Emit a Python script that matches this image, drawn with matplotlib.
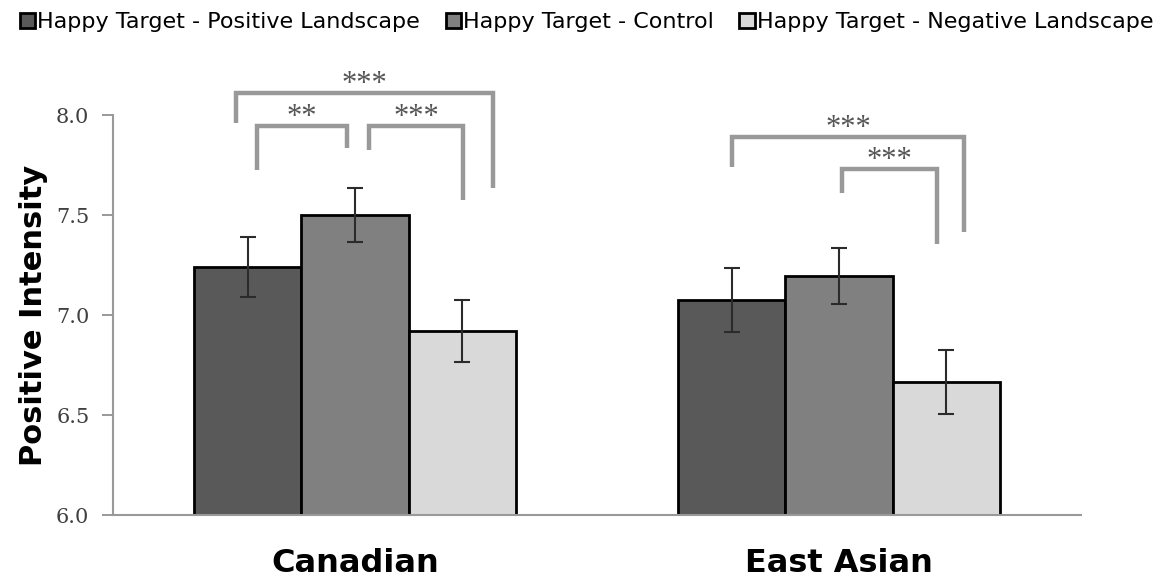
import matplotlib.pyplot as plt
import numpy as np

# data
groups = ["Canadian", "East Asian"]
conditions = [
    "Happy Target - Positive Landscape",
    "Happy Target - Control",
    "Happy Target - Negative Landscape",
]
positive = [7.24, 7.075]
control = [7.50, 7.195]
negative = [6.92, 6.665]
err_positive = [0.15, 0.16]
err_control = [0.135, 0.14]
err_negative = [0.157, 0.16]

# significance brackets: (x_left, x_right, y_top, y_left_end, y_right_end, label)
brackets = [
    (-0.247, 0.286, 8.11, 7.96, 7.635, "***"),
    (-0.203, -0.016, 7.945, 7.725, 7.835, "**"),
    (0.028, 0.224, 7.945, 7.825, 7.575, "***"),
    (0.778, 1.259, 7.89, 7.74, 7.415, "***"),
    (1.007, 1.203, 7.73, 7.61, 7.355, "***"),
]

colors = ["#595959", "#808080", "#d9d9d9"]
width = 0.222

fig = plt.figure(figsize=(11.74, 5.84), dpi=100)
ax = fig.add_axes([0.0963, 0.118, 0.8245, 0.685])

x = np.arange(len(groups))
series = [positive, control, negative]
errs = [err_positive, err_control, err_negative]
for i, (vals, e) in enumerate(zip(series, errs)):
    ax.bar(x + (i - 1) * width, vals, width, bottom=0, color=colors[i],
           edgecolor="black", linewidth=2, label=conditions[i], zorder=2)
    ax.errorbar(x + (i - 1) * width, vals, yerr=e, fmt="none", ecolor="#2b2b2b",
                elinewidth=1.5, capsize=6, capthick=1.5, zorder=3)

ax.set_ylim(6.0, 8.0)
ax.set_xlim(-0.5, 1.5)
ax.set_yticks([6.0, 6.5, 7.0, 7.5, 8.0])
ax.set_yticklabels(["6.0", "6.5", "7.0", "7.5", "8.0"], family="DejaVu Serif",
                   fontsize=15, color="#404040")
ax.set_xticks(x)
ax.set_xticklabels(groups, fontsize=23, fontweight="bold", family="DejaVu Sans")
ax.tick_params(axis="x", length=0, pad=24)
ax.tick_params(axis="y", length=8, color="#888888", width=1.2, pad=9)
ax.set_ylabel("Positive Intensity", fontsize=22, fontweight="bold", labelpad=6)

for side in ["top", "right"]:
    ax.spines[side].set_visible(False)
for side in ["left", "bottom"]:
    ax.spines[side].set_color("#999999")
    ax.spines[side].set_linewidth(1.5)

for x0, x1, ytop, yl, yr, lab in brackets:
    ax.plot([x0, x0, x1, x1], [yl, ytop, ytop, yr], color="#999999", lw=3.2,
            solid_capstyle="butt", solid_joinstyle="miter", clip_on=False, zorder=4)
    ax.text((x0 + x1) / 2, ytop + 0.005, lab, ha="center", va="baseline",
            family="Liberation Serif", fontsize=22, color="#555555", clip_on=False)

fig.legend(loc="center left", bbox_to_anchor=(20 / 1174, 1 - 22 / 584), ncol=3,
           frameon=False, fontsize=16, handlelength=0.68, handleheight=0.68,
           handletextpad=0.1, columnspacing=1.15, borderaxespad=0, borderpad=0)

fig.savefig("out.png", dpi=100)
